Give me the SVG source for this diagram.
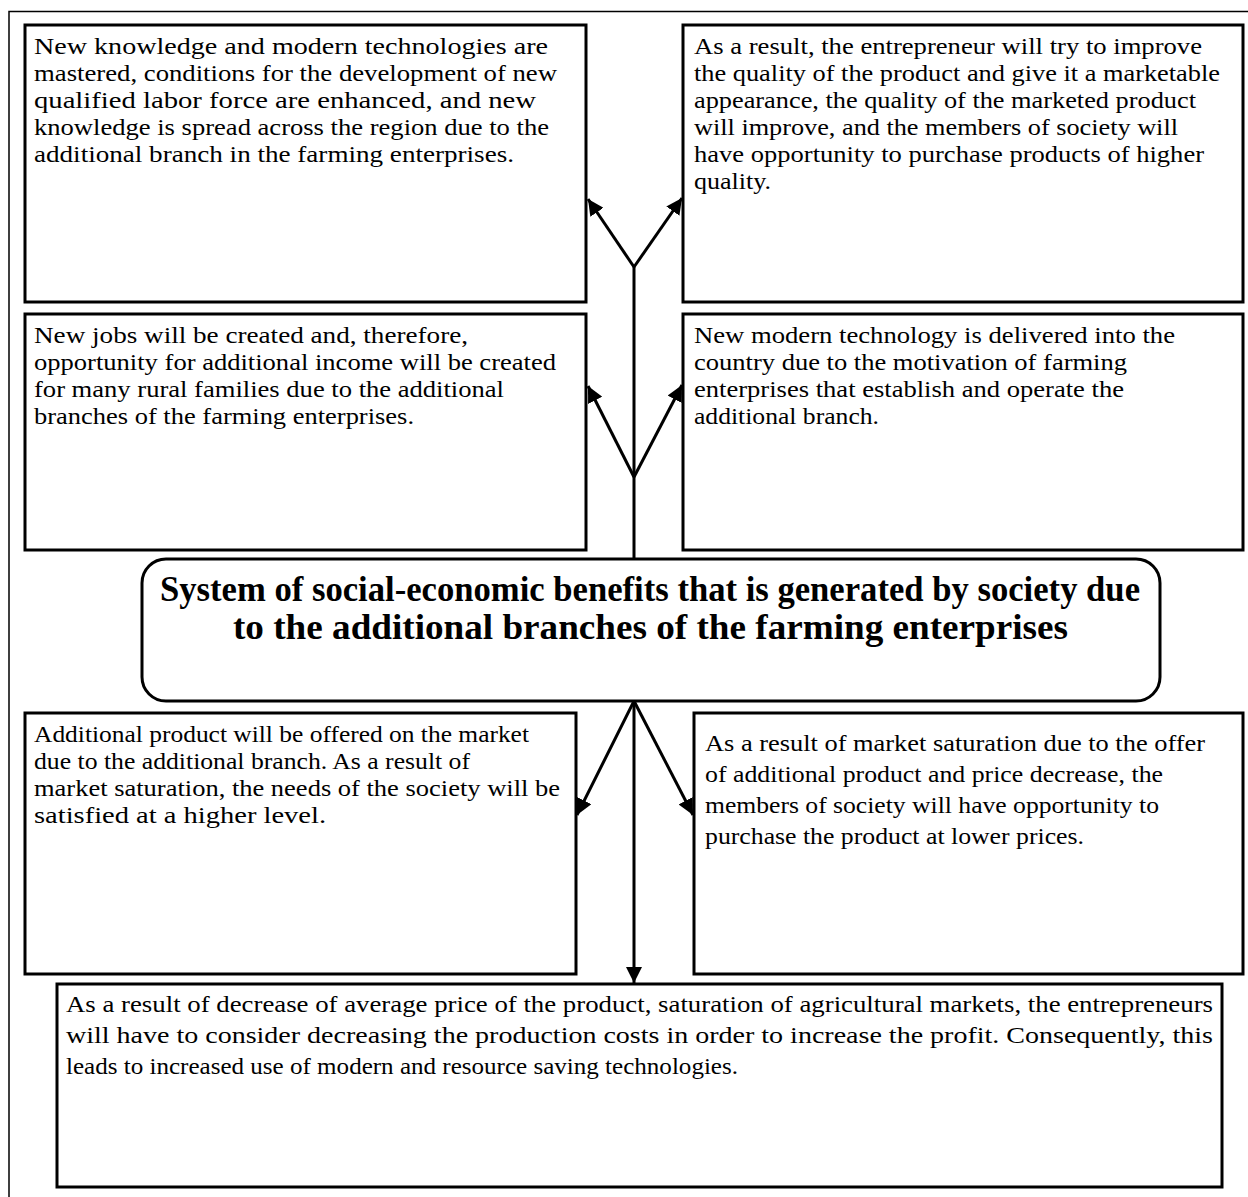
<svg xmlns="http://www.w3.org/2000/svg" width="1248" height="1197" viewBox="0 0 1248 1197">
<style>
.box{fill:#fff;stroke:#000;stroke-width:3}
.frame{fill:none;stroke:#000;stroke-width:1.5}
.con{fill:none;stroke:#000;stroke-width:3}
.t{font-family:"Liberation Serif","Times New Roman",serif;font-size:24px;fill:#000}
.h{font-family:"Liberation Serif","Times New Roman",serif;font-size:35px;font-weight:bold;fill:#000}
</style>
<defs>
<marker id="ah" markerUnits="userSpaceOnUse" markerWidth="18" markerHeight="16" refX="16" refY="8" orient="auto">
<path d="M0,0 L16,8 L0,16 z" fill="#000"/>
</marker>
</defs>
<rect width="1248" height="1197" fill="#fff"/>
<path class="frame" d="M9,1197 V11.5 H1248"/>

<g id="n1">
<rect class="box" x="25" y="25" width="561" height="277"/>
<text class="t"><tspan x="34" y="54" textLength="514" lengthAdjust="spacingAndGlyphs">New knowledge and modern technologies are</tspan><tspan x="34" y="81" textLength="523" lengthAdjust="spacingAndGlyphs">mastered, conditions for the development of new</tspan><tspan x="34" y="108" textLength="502" lengthAdjust="spacingAndGlyphs">qualified labor force are enhanced, and new</tspan><tspan x="34" y="135" textLength="515" lengthAdjust="spacingAndGlyphs">knowledge is spread across the region due to the</tspan><tspan x="34" y="162" textLength="480" lengthAdjust="spacingAndGlyphs">additional branch in the farming enterprises.</tspan></text>
</g>

<g id="n2">
<rect class="box" x="683" y="25" width="560" height="277"/>
<text class="t"><tspan x="694" y="54" textLength="508" lengthAdjust="spacingAndGlyphs">As a result, the entrepreneur will try to improve</tspan><tspan x="694" y="81" textLength="526" lengthAdjust="spacingAndGlyphs">the quality of the product and give it a marketable</tspan><tspan x="694" y="108" textLength="502" lengthAdjust="spacingAndGlyphs">appearance, the quality of the marketed product</tspan><tspan x="694" y="135" textLength="484" lengthAdjust="spacingAndGlyphs">will improve, and the members of society will</tspan><tspan x="694" y="162" textLength="510" lengthAdjust="spacingAndGlyphs">have opportunity to purchase products of higher</tspan><tspan x="694" y="189" textLength="77" lengthAdjust="spacingAndGlyphs">quality.</tspan></text>
</g>

<g id="n3">
<rect class="box" x="25" y="314" width="561" height="236"/>
<text class="t"><tspan x="34" y="343" textLength="434" lengthAdjust="spacingAndGlyphs">New jobs will be created and, therefore,</tspan><tspan x="34" y="370" textLength="522" lengthAdjust="spacingAndGlyphs">opportunity for additional income will be created</tspan><tspan x="34" y="397" textLength="470" lengthAdjust="spacingAndGlyphs">for many rural families due to the additional</tspan><tspan x="34" y="424" textLength="380" lengthAdjust="spacingAndGlyphs">branches of the farming enterprises.</tspan></text>
</g>

<g id="n4">
<rect class="box" x="683" y="314" width="560" height="236"/>
<text class="t"><tspan x="694" y="343" textLength="481" lengthAdjust="spacingAndGlyphs">New modern technology is delivered into the</tspan><tspan x="694" y="370" textLength="433" lengthAdjust="spacingAndGlyphs">country due to the motivation of farming</tspan><tspan x="694" y="397" textLength="430" lengthAdjust="spacingAndGlyphs">enterprises that establish and operate the</tspan><tspan x="694" y="424" textLength="185" lengthAdjust="spacingAndGlyphs">additional branch.</tspan></text>
</g>

<g id="center">
<rect class="box" x="142" y="559" width="1018" height="142" rx="24" ry="24"/>
<text class="h"><tspan x="160" y="601" textLength="980" lengthAdjust="spacingAndGlyphs">System of social-economic benefits that is generated by society due</tspan><tspan x="233" y="639" textLength="835" lengthAdjust="spacingAndGlyphs">to the additional branches of the farming enterprises</tspan></text>
</g>

<g id="n5">
<rect class="box" x="25" y="713" width="551" height="261"/>
<text class="t"><tspan x="34" y="742" textLength="495" lengthAdjust="spacingAndGlyphs">Additional product will be offered on the market</tspan><tspan x="34" y="769" textLength="436" lengthAdjust="spacingAndGlyphs">due to the additional branch. As a result of</tspan><tspan x="34" y="796" textLength="526" lengthAdjust="spacingAndGlyphs">market saturation, the needs of the society will be</tspan><tspan x="34" y="823" textLength="292" lengthAdjust="spacingAndGlyphs">satisfied at a higher level.</tspan></text>
</g>

<g id="n6">
<rect class="box" x="694" y="713" width="549" height="261"/>
<text class="t"><tspan x="705" y="751" textLength="500" lengthAdjust="spacingAndGlyphs">As a result of market saturation due to the offer</tspan><tspan x="705" y="782" textLength="458" lengthAdjust="spacingAndGlyphs">of additional product and price decrease, the</tspan><tspan x="705" y="813" textLength="454" lengthAdjust="spacingAndGlyphs">members of society will have opportunity to</tspan><tspan x="705" y="844" textLength="379" lengthAdjust="spacingAndGlyphs">purchase the product at lower prices.</tspan></text>
</g>

<g id="n7">
<rect class="box" x="57" y="984" width="1165" height="203"/>
<text class="t"><tspan x="66" y="1012" textLength="1147" lengthAdjust="spacingAndGlyphs">As a result of decrease of average price of the product, saturation of agricultural markets, the entrepreneurs</tspan><tspan x="66" y="1043" textLength="1147" lengthAdjust="spacingAndGlyphs">will have to consider decreasing the production costs in order to increase the profit. Consequently, this</tspan><tspan x="66" y="1074" textLength="672" lengthAdjust="spacingAndGlyphs">leads to increased use of modern and resource saving technologies.</tspan></text>
</g>

<g id="connectors">
<line class="con" x1="634" y1="559" x2="634" y2="267"/>
<line class="con" x1="634" y1="267" x2="588" y2="199" marker-end="url(#ah)"/>
<line class="con" x1="634" y1="267" x2="682" y2="198" marker-end="url(#ah)"/>
<line class="con" x1="634" y1="477" x2="588" y2="386" marker-end="url(#ah)"/>
<line class="con" x1="634" y1="477" x2="682" y2="385" marker-end="url(#ah)"/>
<line class="con" x1="634" y1="701" x2="577" y2="815" marker-end="url(#ah)"/>
<line class="con" x1="634" y1="701" x2="693" y2="815" marker-end="url(#ah)"/>
<line class="con" x1="634" y1="701" x2="634" y2="983" marker-end="url(#ah)"/>
</g>
</svg>
